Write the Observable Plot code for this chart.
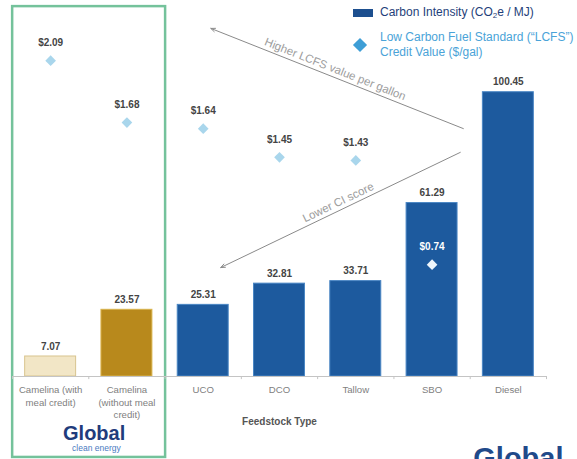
<!DOCTYPE html>
<html>
<head>
<meta charset="utf-8">
<script src="https://cdn.jsdelivr.net/npm/d3@7"></script>
<script src="https://cdn.jsdelivr.net/npm/@observablehq/plot@0.6"></script>
<style>
  html, body { margin: 0; padding: 0; background: #fff; overflow: hidden; }
  #wrap { position: relative; width: 577px; height: 459px; overflow: hidden; font-family: "Liberation Sans", Arial, sans-serif; }
  #wrap svg { position: absolute; left: 0; top: 0; overflow: visible; }
  .lg { position: absolute; font-size: 12px; white-space: nowrap; }
</style>
</head>
<body>
<div id="wrap">
  <div class="lg" style="left:353px; top:9px; width:20px; height:8px; background:#1d4f8f;"></div>
  <div class="lg" style="left:380px; top:5px; line-height:15px; color:#1f3f7a;">Carbon Intensity (CO<sub style="font-size:8px; vertical-align:-2px;">2</sub>e / MJ)</div>
  <div class="lg" style="left:355px; top:40px; width:10px; height:10px; background:#3e9ed6; transform:rotate(45deg);"></div>
  <div class="lg" style="left:380px; top:30px; line-height:15px; color:#4aa3d8;">Low Carbon Fuel Standard (“LCFS”)<br>Credit Value ($/gal)</div>
</div>
<script>
// ---- data ----
const categories = ["Camelina (with\nmeal credit)", "Camelina\n(without meal\ncredit)", "UCO", "DCO", "Tallow", "SBO", "Diesel"];
const carbonIntensity = [7.07, 23.57, 25.31, 32.81, 33.71, 61.29, 100.45];   // gCO2e / MJ
const lcfsCredit = [2.09, 1.68, 1.64, 1.45, 1.43, 0.74, null];               // $/gal
const barFill   = ["#f2e6c6", "#b8891c", "#1d5a9e", "#1d5a9e", "#1d5a9e", "#1d5a9e", "#1d5a9e"];
const barStroke = ["#d8c48f", "#d9b34c", "#4a86c4", "#4a86c4", "#4a86c4", "#4a86c4", "#4a86c4"];
const diamondFill = ["#a9d6ec", "#a9d6ec", "#a9d6ec", "#a9d6ec", "#a9d6ec", "#eef6fc", null];
const lcfsLabelFill = ["#444", "#444", "#444", "#444", "#444", "#ffffff", null];

// secondary axis: CI units per $/gal (shared zero baseline)
const LCFS_TO_CI = 53.4;

// annotations (x in category index units, y in CI units)
const arrows = [
  {x1: 5.41, y1: 87.6, x2: 2.10, y2: 123.0},
  {x1: 5.37, y1: 79.2, x2: 2.23, y2: 38.5}
];
const arrowNotes = [
  {x: 3.73, y: 108.6, text: "Higher LCFS value per gallon", rotate: 21.6},
  {x: 3.77, y: 61.5, text: "Lower CI score", rotate: -25.6}
];
const highlightBox = [{x1: -0.498, x2: 1.507, y1: -28.6, y2: 130.7}];
const boundaries = [-0.5].concat(categories.map((_, i) => i + 0.5));

const rows = categories.map((cat, i) => ({
  i, cat, ci: carbonIntensity[i], lcfs: lcfsCredit[i],
  fill: barFill[i], stroke: barStroke[i], dfill: diamondFill[i], lfill: lcfsLabelFill[i]
}));
const lcfsRows = rows.filter(d => d.lcfs != null);

const plot = Plot.plot({
  width: 577,
  height: 459,
  marginLeft: 12,
  marginRight: 31,
  marginTop: 93,
  marginBottom: 83,
  style: {fontFamily: "'Liberation Sans', Arial, sans-serif", background: "transparent"},
  x: {domain: [-0.5, 6.5], axis: null},
  y: {domain: [0, 100], axis: null},
  color: {type: "identity"},
  marks: [
    Plot.rect(highlightBox, {x1: "x1", x2: "x2", y1: "y1", y2: "y2", fill: "none", stroke: "#74c29b", strokeWidth: 2.5}),
    Plot.rectY(rows, {x1: d => d.i - 0.334, x2: d => d.i + 0.334, y1: 0, y2: "ci", fill: "fill", stroke: "stroke", strokeWidth: 1}),
    Plot.ruleY([0], {stroke: "#c4c4c4", strokeWidth: 1}),
    Plot.ruleX(boundaries, {x: d => d, y1: 0, y2: -1.1, stroke: "#c4c4c4"}),
    Plot.text(rows, {x: "i", y: "ci", text: d => d.ci.toFixed(2), dy: -10, fontSize: 10, fontWeight: "bold", fill: "#444"}),
    Plot.dot(lcfsRows, {x: "i", y: d => d.lcfs * LCFS_TO_CI, symbol: "diamond2", r: 4.8, fill: "dfill", stroke: "none"}),
    Plot.text(lcfsRows, {x: "i", y: d => d.lcfs * LCFS_TO_CI, text: d => "$" + d.lcfs.toFixed(2), dy: -18, fontSize: 10, fontWeight: "bold", fill: "lfill"}),
    Plot.text(rows, {x: "i", y: 0, text: "cat", dy: 8, lineAnchor: "top", lineHeight: 1.3, fontSize: 9.6, fill: "#808080"}),
    Plot.text(["Feedstock Type"], {frameAnchor: "bottom", dy: 48, fontSize: 10, fontWeight: "bold", fill: "#555"}),
    Plot.arrow(arrows, {x1: "x1", y1: "y1", x2: "x2", y2: "y2", stroke: "#8a8a8a", strokeWidth: 1, headLength: 7, headAngle: 45}),
    Plot.text(arrowNotes, {x: "x", y: "y", text: "text", rotate: "rotate", fontSize: 11.5, fill: "#9d9d9d"}),
    Plot.text(["Global"], {x: () => 0.57, y: () => -22.6, lineAnchor: "bottom", fontSize: 20, fontWeight: "bold", fill: "#1f3c7c"}),
    Plot.text(["clean energy"], {x: () => 0.6, y: () => -26.5, lineAnchor: "bottom", fontSize: 8.5, fill: "#4a7bbf"}),
    Plot.text(["Global"], {x: () => 5.54, y: () => -32.5, lineAnchor: "bottom", textAnchor: "start", fontSize: 29, fontWeight: "bold", fill: "#1f4a8a"})
  ]
});
document.getElementById("wrap").prepend(plot);
</script>
</body>
</html>
